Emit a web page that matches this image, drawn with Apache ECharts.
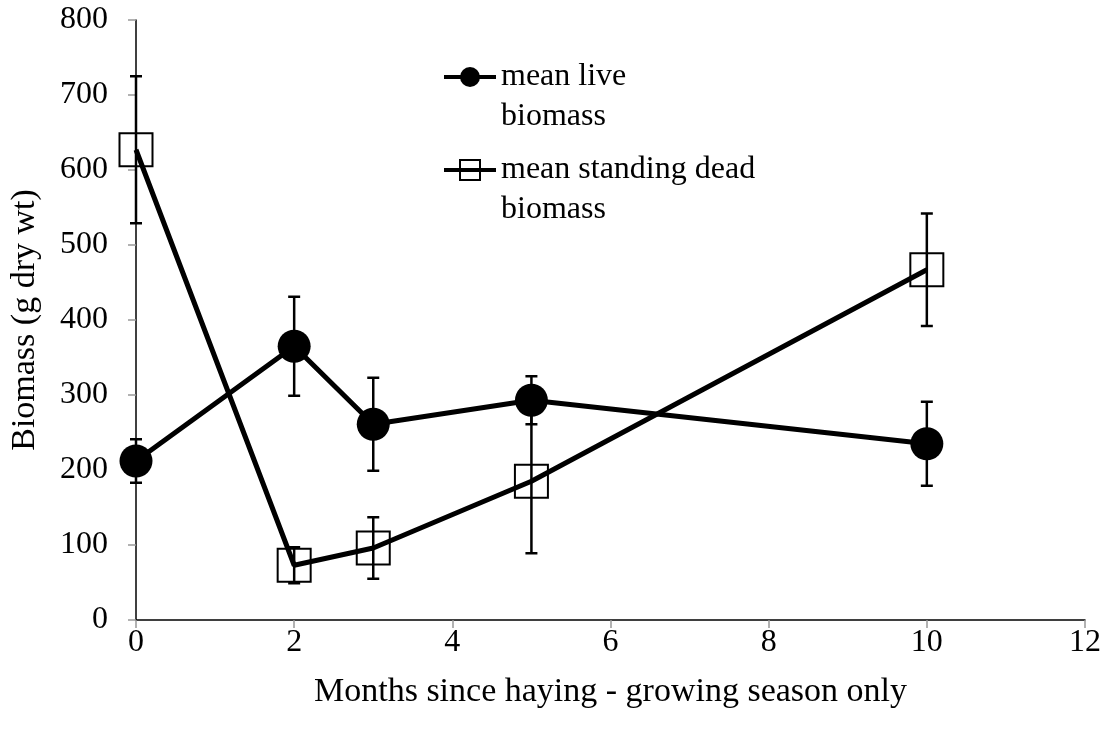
<!DOCTYPE html>
<html>
<head>
<meta charset="utf-8">
<script src="https://cdn.jsdelivr.net/npm/echarts@6/dist/echarts.min.js"></script>
<style>
html, body { margin: 0; padding: 0; background: #fff; }
#chart { width: 1106px; height: 740px; }
</style>
</head>
<body>
<div id="chart"></div>
<script>
// months since haying
const months = [0, 2, 3, 5, 10];
// mean live biomass and its error (+/-)
const liveMean = [212, 365, 261, 293, 235];
const liveErr = [29, 66, 62, 32, 56];
// mean standing dead biomass and its error (+/-)
const deadMean = [627, 73, 96, 185, 467];
const deadErr = [98, 24, 41, 96, 75];
const yTicks = [0, 100, 200, 300, 400, 500, 600, 700, 800];

const font = "'Liberation Serif', 'Times New Roman', serif";

function errData(mean, err) {
    return months.map(function (m, i) { return [m, mean[i] - err[i], mean[i] + err[i]]; });
}

function errBars(params, api) {
    let x = api.value(0);
    let lo = api.coord([x, api.value(1)]);
    let hi = api.coord([x, api.value(2)]);
    let w = 6;
    let style = { stroke: '#000', lineWidth: 2.5 };
    return {
        type: 'group',
        children: [
            { type: 'line', shape: { x1: lo[0], y1: lo[1], x2: hi[0], y2: hi[1] }, style: style },
            { type: 'line', shape: { x1: lo[0] - w, y1: lo[1], x2: lo[0] + w, y2: lo[1] }, style: style },
            { type: 'line', shape: { x1: hi[0] - w, y1: hi[1], x2: hi[0] + w, y2: hi[1] }, style: style }
        ]
    };
}

let chart = echarts.init(document.getElementById('chart'));
chart.setOption({
    animation: false,
    backgroundColor: '#fff',
    textStyle: { fontFamily: font, color: '#000' },
    grid: { left: 136, right: 21, top: 20, bottom: 120, outerBoundsMode: 'none' },
    legend: {
        orient: 'vertical',
        left: 442,
        top: 17,
        padding: 0,
        itemWidth: 52,
        itemHeight: 25,
        itemGap: -27,
        lineStyle: { width: 4, color: '#000' },
        data: ['mean live\nbiomass', 'mean standing dead\nbiomass'],
        // blank first line keeps the icon level with the first text line
        formatter: function (name) { return '\n' + name; },
        textStyle: { fontFamily: font, fontSize: 32, color: '#000', lineHeight: 40 }
    },
    xAxis: {
        type: 'value',
        min: 0,
        max: 12,
        interval: 2,
        name: 'Months since haying - growing season only',
        nameLocation: 'middle',
        nameGap: 55,
        nameTextStyle: { fontFamily: font, fontSize: 34, color: '#000' },
        axisLine: { lineStyle: { color: '#000', width: 1.5 } },
        axisTick: { length: 8, lineStyle: { color: '#999', width: 1.5 } },
        axisLabel: { fontFamily: font, fontSize: 32, color: '#000', margin: 7 },
        splitLine: { show: false }
    },
    yAxis: {
        type: 'value',
        min: 0,
        max: 800,
        interval: 100,
        name: 'Biomass (g dry wt)',
        nameLocation: 'middle',
        nameGap: 94,
        nameTextStyle: { fontFamily: font, fontSize: 34, color: '#000' },
        axisLine: { show: true, lineStyle: { color: '#000', width: 1.5 } },
        axisTick: { show: true, length: 8, lineStyle: { color: '#999', width: 1.5 } },
        axisLabel: { fontFamily: font, fontSize: 32, color: '#000', margin: 28, formatter: function (v) { return yTicks.indexOf(v) >= 0 ? String(v) : ''; } },
        splitLine: { show: false }
    },
    series: [
        {
            type: 'custom',
            name: 'liveErr',
            renderItem: errBars,
            data: errData(liveMean, liveErr),
            z: 1
        },
        {
            type: 'custom',
            name: 'deadErr',
            renderItem: errBars,
            data: errData(deadMean, deadErr),
            z: 1
        },
        {
            type: 'line',
            name: 'mean live\nbiomass',
            data: months.map(function (m, i) { return [m, liveMean[i]]; }),
            symbol: 'circle',
            symbolSize: 33,
            showAllSymbol: true,
            lineStyle: { color: '#000', width: 5 },
            itemStyle: { color: '#000' },
            z: 3
        },
        {
            type: 'line',
            name: 'mean standing dead\nbiomass',
            data: months.map(function (m, i) { return [m, deadMean[i]]; }),
            symbol: 'rect',
            symbolSize: 33,
            showAllSymbol: true,
            lineStyle: { color: '#000', width: 5 },
            itemStyle: { color: 'rgba(255,255,255,0)', borderColor: '#000', borderWidth: 2 },
            z: 3
        }
    ]
});
</script>
</body>
</html>
